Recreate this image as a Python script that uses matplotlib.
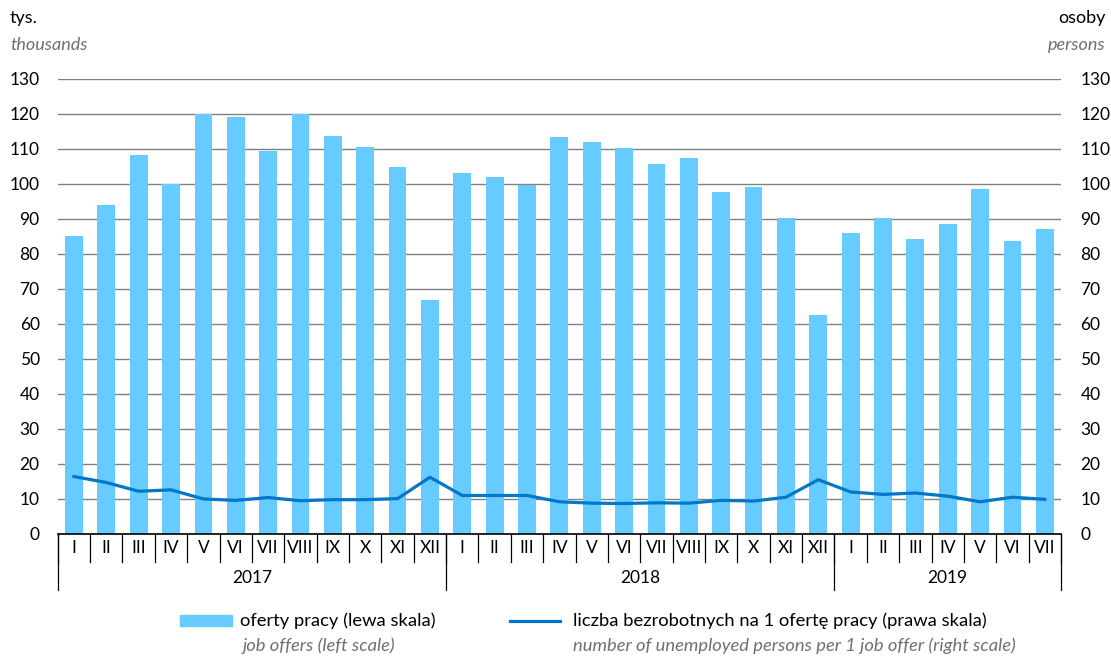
import matplotlib
matplotlib.use('Agg')
import matplotlib.pyplot as plt
from matplotlib.patches import Rectangle
from matplotlib.lines import Line2D
import numpy as np

plt.rcParams['font.family'] = ['Lato', 'DejaVu Sans']

# data
years = ['2017', '2018', '2019']
months_per_year = [12, 12, 7]
month_labels = ['I', 'II', 'III', 'IV', 'V', 'VI', 'VII', 'VIII', 'IX', 'X', 'XI', 'XII']

job_offers = [85.0, 94.0, 108.3, 100.0, 120.0, 119.2, 109.5, 120.0, 113.7, 110.6, 104.9, 66.9,
              103.1, 102.0, 99.7, 113.4, 112.0, 110.3, 105.7, 107.4, 97.7, 99.1, 90.3, 62.6,
              86.0, 90.3, 84.3, 88.6, 98.6, 83.7, 87.1]
unemployed_per_offer = [16.4, 14.7, 12.2, 12.6, 10.0, 9.6, 10.4, 9.5, 9.8, 9.8, 10.1, 16.2,
                        11.0, 11.0, 11.0, 9.2, 8.8, 8.7, 8.9, 8.8, 9.6, 9.4, 10.5, 15.5,
                        12.0, 11.3, 11.7, 10.8, 9.2, 10.5, 9.9]

BAR_COLOR = '#66CCFF'
LINE_COLOR = '#0077C8'
GRID_COLOR = '#808080'
GRAY_TEXT = '#707070'

labels = []
for n in months_per_year:
    labels += month_labels[:n]
x = np.arange(len(job_offers))

fig = plt.figure(figsize=(11.11, 6.56), dpi=100)
ax = fig.add_axes([0.052, 0.186, 0.903, 0.694])

ax.bar(x, job_offers, width=0.55, color=BAR_COLOR, zorder=2)
ax.set_xlim(-0.5, len(x) - 0.5)
ax.set_ylim(0, 130)
ax.set_yticks(np.arange(0, 131, 10))
ax.yaxis.grid(True, color=GRID_COLOR, linewidth=1)
ax.set_axisbelow(True)
ax.tick_params(axis='y', length=0, pad=13, labelsize=12.5)
ax.set_xticks([])
for s in ['left', 'right', 'top']:
    ax.spines[s].set_visible(False)
ax.spines['bottom'].set_color('black')
ax.spines['bottom'].set_linewidth(1.2)

ax2 = ax.twinx()
ax2.plot(x, unemployed_per_offer, color=LINE_COLOR, linewidth=2.3, zorder=3)
ax2.set_ylim(0, 130)
ax2.set_yticks(np.arange(0, 131, 10))
ax2.tick_params(axis='y', length=0, pad=14, labelsize=12.5)
for s in ['left', 'right', 'top', 'bottom']:
    ax2.spines[s].set_visible(False)

# category axis: months and years
trans = ax.get_xaxis_transform()
for i, lab in enumerate(labels):
    ax.text(i, -0.031, lab, transform=trans, ha='center', va='center', fontsize=12.5)
for b in range(len(x) + 1):
    ax.plot([b - 0.5, b - 0.5], [0, -0.062], transform=trans, color='black',
            linewidth=0.9, clip_on=False)
start = 0
for yr, n in zip(years, months_per_year):
    ax.plot([start - 0.5, start - 0.5], [0, -0.123], transform=trans, color='black',
            linewidth=0.9, clip_on=False)
    ax.text(start + (n - 1) / 2, -0.097, yr, transform=trans, ha='center', va='center',
            fontsize=12.5)
    start += n
ax.plot([start - 0.5, start - 0.5], [0, -0.123], transform=trans, color='black',
        linewidth=0.9, clip_on=False)

# unit labels
fig.text(0.009, 0.972, 'tys.', ha='left', va='center', fontsize=13)
fig.text(0.009, 0.931, 'thousands', ha='left', va='center', fontsize=13,
         style='italic', color=GRAY_TEXT)
fig.text(0.995, 0.972, 'osoby', ha='right', va='center', fontsize=13)
fig.text(0.995, 0.931, 'persons', ha='right', va='center', fontsize=13,
         style='italic', color=GRAY_TEXT)

# legend
fig.patches.append(Rectangle((0.162, 0.046), 0.047, 0.016, transform=fig.transFigure,
                             color=BAR_COLOR))
fig.text(0.216, 0.054, 'oferty pracy (lewa skala)', ha='left', va='center', fontsize=13.2)
fig.text(0.218, 0.016, 'job offers (left scale)', ha='left', va='center', fontsize=13.2,
         style='italic', color=GRAY_TEXT)
fig.lines.append(Line2D([0.459, 0.504], [0.054, 0.054], transform=fig.transFigure,
                        color=LINE_COLOR, linewidth=2.3))
fig.text(0.516, 0.054, 'liczba bezrobotnych na 1 ofertę pracy (prawa skala)', ha='left',
         va='center', fontsize=13.2)
fig.text(0.516, 0.016, 'number of unemployed persons per 1 job offer (right scale)',
         ha='left', va='center', fontsize=13.2, style='italic', color=GRAY_TEXT)

fig.savefig('out.png', dpi=100)
